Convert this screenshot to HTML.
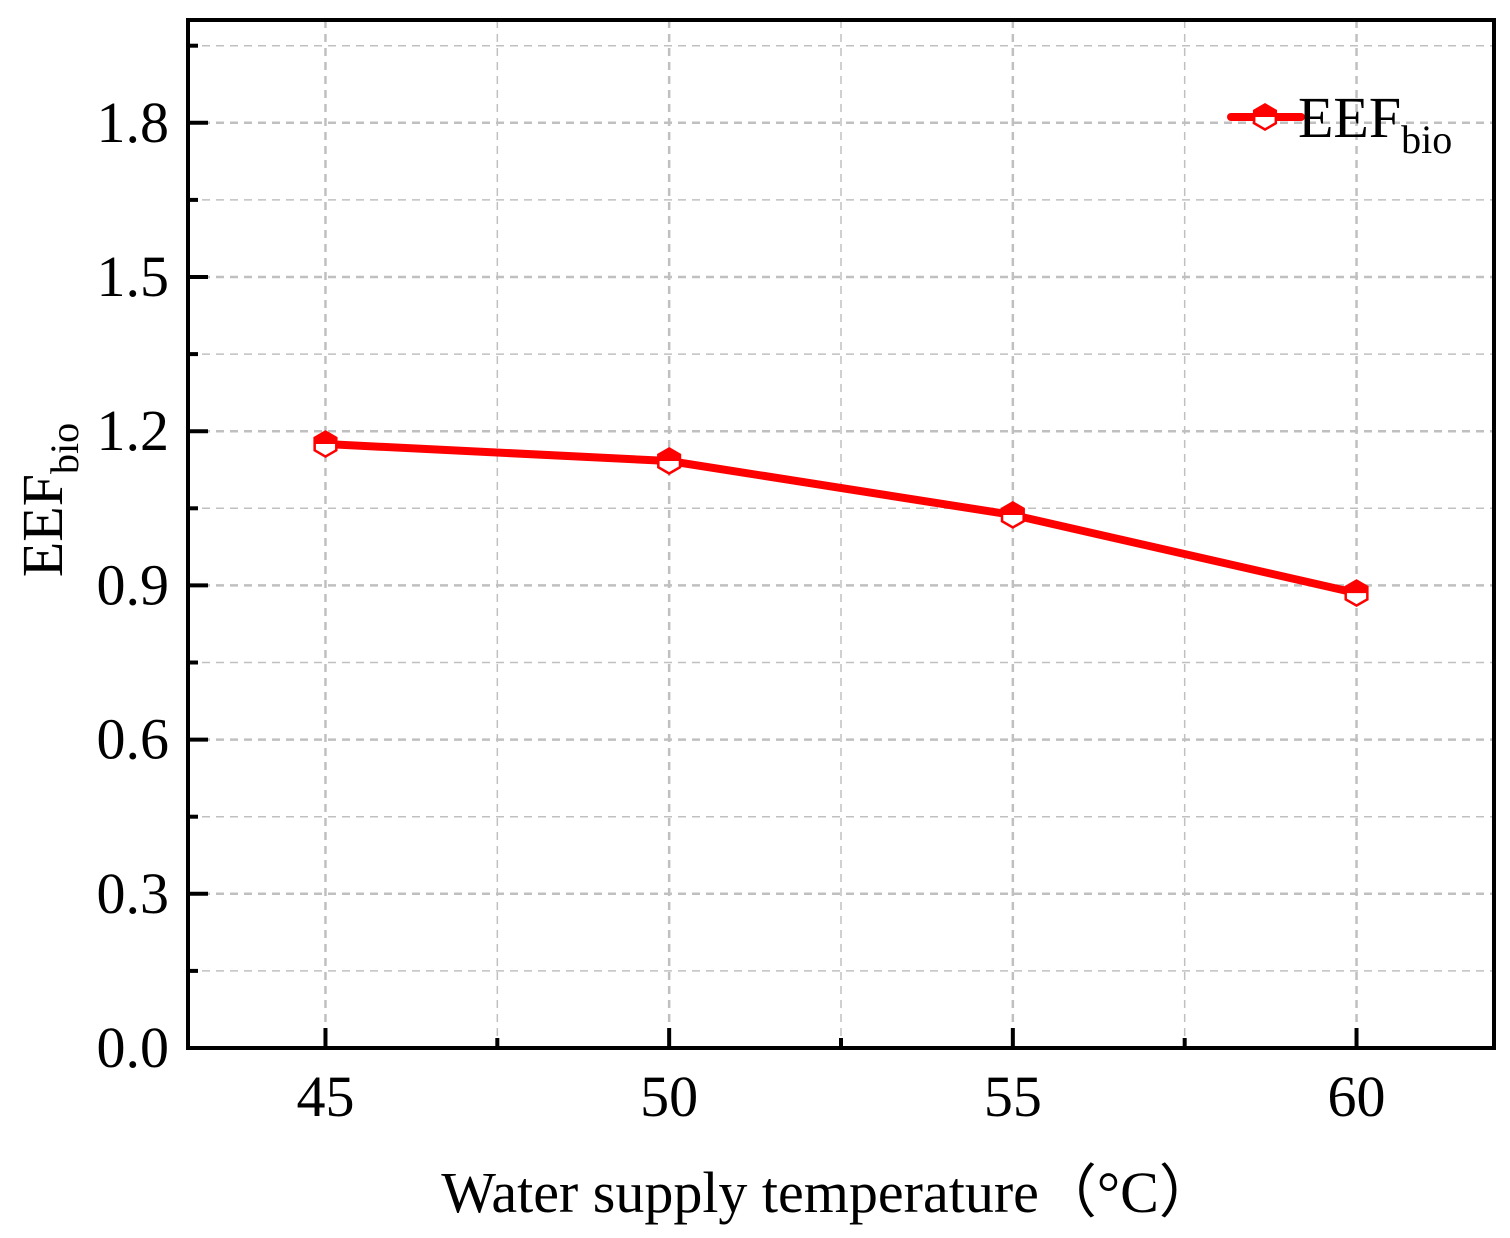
<!DOCTYPE html>
<html><head><meta charset="utf-8"><style>
body{margin:0;background:#fff}
svg text{font-family:"Liberation Serif",serif;fill:#000}
</style></head><body>
<svg id="chart" width="1510" height="1233" viewBox="0 0 1510 1233" xmlns="http://www.w3.org/2000/svg">
<g id="grid"></g>
<g id="axes"></g>
<g id="series"></g>
<g>
  <line x1="1231" y1="117" x2="1301" y2="117" stroke="#ff0000" stroke-width="8" stroke-linecap="round"/>
  <g id="legmark"></g>
  <text x="1298" y="137" font-size="58">EEF<tspan font-size="40" dy="16">bio</tspan></text>
</g>
<text x="829" y="1212" font-size="58" text-anchor="middle">Water supply temperature（°C）</text>
<text transform="translate(62,500) rotate(-90)" font-size="58" text-anchor="middle">EEF<tspan font-size="40" dy="16">bio</tspan></text>
</svg>
<script>
const categories=[45,50,55,60];
const values=[1.175,1.142,1.037,0.885];
const yTicks=[0,0.3,0.6,0.9,1.2,1.5,1.8];
const yTickLabels=["0.0","0.3","0.6","0.9","1.2","1.5","1.8"];
const xTicks=[45,50,55,60];
const L=188,R=1494,T=20,B=1048,X0=43,X1=62,Y0=0,Y1=2.0;
const sx=v=>L+(v-X0)/(X1-X0)*(R-L);
const sy=v=>B-(v-Y0)/(Y1-Y0)*(B-T);
const NS="http://www.w3.org/2000/svg";
function mk(tag,attrs,parent){const e=document.createElementNS(NS,tag);for(const k in attrs)e.setAttribute(k,attrs[k]);parent.appendChild(e);return e;}
const grid=document.getElementById('grid'),axes=document.getElementById('axes'),ser=document.getElementById('series');
for(let v=0.15;v<Y1;v+=0.15){const major=Math.abs(v/0.3-Math.round(v/0.3))<1e-6;
 const g=mk('line',{x1:L,x2:R,y1:sy(v),y2:sy(v),stroke:'#c0c0c0','stroke-width':major?2.5:1.5,'stroke-dasharray':'8 6'},grid);
 }
for(let v=45;v<X1;v+=2.5){const major=v%5===0;
 const g=mk('line',{x1:sx(v),x2:sx(v),y1:T,y2:B,stroke:'#c0c0c0','stroke-width':major?2.5:1.5,'stroke-dasharray':'8 6'},grid);
 }
const fr=mk('rect',{x:L,y:T,width:R-L,height:B-T,fill:'none',stroke:'#000','stroke-width':4},axes);

for(let v=0;v<Y1;v+=0.15){const major=Math.abs(v/0.3-Math.round(v/0.3))<1e-6;
 const t=mk('line',{x1:L,x2:L+(major?20:10),y1:sy(v),y2:sy(v),stroke:'#000','stroke-width':4},axes);
 }
yTicks.forEach((v,i)=>{const t=mk('text',{x:L-19,y:sy(v)+19,'font-size':58,'text-anchor':'end'},axes);t.textContent=yTickLabels[i];
 });
for(let v=45;v<X1;v+=2.5){const major=v%5===0;
 const t=mk('line',{x1:sx(v),x2:sx(v),y1:B,y2:B-(major?20:10),stroke:'#000','stroke-width':4},axes);
 }
xTicks.forEach(v=>{const t=mk('text',{x:sx(v),y:B+68,'font-size':58,'text-anchor':'middle'},axes);t.textContent=v;
 });
const pl=mk('polyline',{points:categories.map((c,i)=>sx(c)+','+sy(values[i])).join(' '),fill:'none',stroke:'#ff0000','stroke-width':8,'stroke-linejoin':'round'},ser);

function hexMarker(cx,cy,parent){
 const r=12.5;const pts=[];for(let k=0;k<6;k++){const a=Math.PI/180*(60*k-90);pts.push([cx+r*Math.cos(a),cy+r*Math.sin(a)]);}
 const g=mk('g',{},parent);
 mk('polygon',{points:pts.map(p=>p.join(',')).join(' '),fill:'#fff',stroke:'#ff0000','stroke-width':2.5},g);
 mk('path',{d:`M${cx-r*0.866},${cy} L${pts[5][0]},${pts[5][1]} L${pts[0][0]},${pts[0][1]} L${pts[1][0]},${pts[1][1]} L${cx+r*0.866},${cy} Z`,fill:'#ff0000'},g);
 return g;}
categories.forEach((c,i)=>{const m=hexMarker(sx(c),sy(values[i]),ser);
 });
hexMarker(1265,117,document.getElementById('legmark'));
</script>
</body></html>
